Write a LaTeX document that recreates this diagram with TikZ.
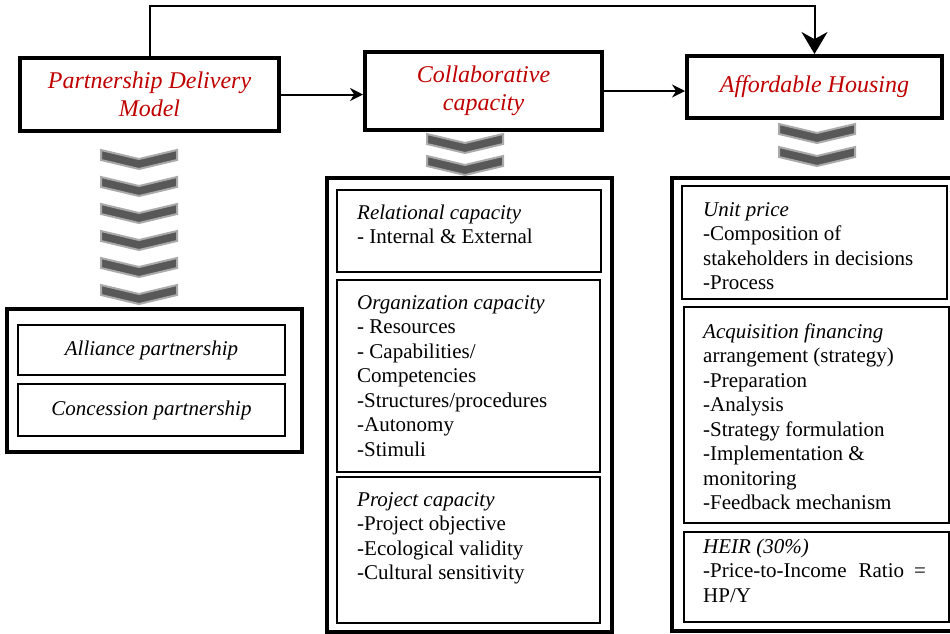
\documentclass[tikz,border=0pt]{standalone}
\usepackage{fontspec}
\setmainfont{Liberation Serif}
\usetikzlibrary{arrows.meta,positioning}
\definecolor{headred}{RGB}{192,0,0}
\definecolor{chevfill}{RGB}{88,88,88}
\definecolor{chevedge}{RGB}{170,170,170}

\begin{document}
\begin{tikzpicture}[
    x=1pt, y=-1pt,
    headbox/.style={draw, line width=4pt, fill=white, align=center, text=headred,
        font=\fontsize{24}{28}\selectfont\itshape},
    frame/.style={draw, line width=4pt},
    cell/.style={draw, line width=1.5pt},
    kind/.style={font=\fontsize{21}{24.5}\selectfont\itshape},
    listing/.style={anchor=base west, align=left, inner sep=0pt,
        font=\fontsize{21}{24.5}\selectfont},
    link/.style={line width=2pt},
    chev/.pic={\filldraw[fill=chevfill, draw=chevedge, line width=2pt]
        (-38,0) -- (0,9) -- (38,0) -- (38,10) -- (0,19) -- (-38,10) -- cycle;}
]
\clip (0,0) rectangle (950,633);

% Main blocks
\node[headbox, minimum width=259, minimum height=73] (pdm) at (149.5,94.5) {Partnership Delivery\\Model};
\node[headbox, minimum width=237, minimum height=78] (collab) at (483.5,91) {Collaborative\\capacity};
\node[headbox, minimum width=255, minimum height=62] (house) at (814.5,87) {Affordable Housing};

% Links
\draw[link, -{Stealth[length=13pt,width=13pt]}] (pdm.east) -- (collab.west |- pdm.east);
\draw[link, -{Stealth[length=13pt,width=13pt]}] (collab.east) -- (house.west |- collab.east);
\draw[link, -{Stealth[length=22pt,width=26pt]}] (pdm.north) -- ++(0,-50) -| (house.north);

% Chevrons
\foreach \y in {150,177,...,285} \pic at (139,\y) {chev};
\foreach \y in {134,156} \pic at (465,\y) {chev};
\foreach \y in {124,147} \pic at (817,\y) {chev};

% Partnership types
\node[frame, minimum width=295, minimum height=143] (pdmframe) at (154.5,380.5) {};
\node[cell, kind, minimum width=267, minimum height=50] (alliance) at (151.5,350) {Alliance partnership};
\node[cell, kind, minimum width=267, minimum height=52] (concession) at (151.5,410) {Concession partnership};

% Capacity dimensions (base = last line)
\node[frame, minimum width=285, minimum height=454] (collabframe) at (469.5,405) {};
\node[cell, minimum width=264, minimum height=82] (relational) at (469,231) {};
\node[cell, minimum width=263, minimum height=192] (organization) at (468.5,376) {};
\node[cell, minimum width=263, minimum height=146] (project) at (468.5,550) {};
\node[listing] (relationaltext) at (357,243.5) {\textit{Relational capacity}\\- Internal \& External};
\node[listing] (organizationtext) at (357,456) {\textit{Organization capacity}\\- Resources\\- Capabilities/\\Competencies\\-Structures/procedures\\-Autonomy\\-Stimuli};
\node[listing] (projecttext) at (357,579.5) {\textit{Project capacity}\\-Project objective\\-Ecological validity\\-Cultural sensitivity};

% Housing measures
\node[frame, minimum width=288, minimum height=453] (houseframe) at (816,404.5) {};
\node[cell, minimum width=265, minimum height=113] (unitprice) at (814.5,242.5) {};
\node[cell, minimum width=265, minimum height=216] (financing) at (816.5,415) {};
\node[cell, minimum width=265, minimum height=90] (heir) at (816.5,577) {};
\node[listing] (unitpricetext) at (703,289.5) {\textit{Unit price}\\-Composition of\\stakeholders in decisions\\-Process};
\node[listing] (financingtext) at (703,509.5) {\textit{Acquisition financing}\\arrangement (strategy)\\-Preparation\\-Analysis\\-Strategy formulation\\-Implementation \&\\monitoring\\-Feedback mechanism};
\node[listing] (heirtext) at (703,602) {\textit{HEIR (30\%)}\\-Price-to-Income\hspace{12pt}Ratio\hspace{10pt}=\\HP/Y};

\end{tikzpicture}
\end{document}
